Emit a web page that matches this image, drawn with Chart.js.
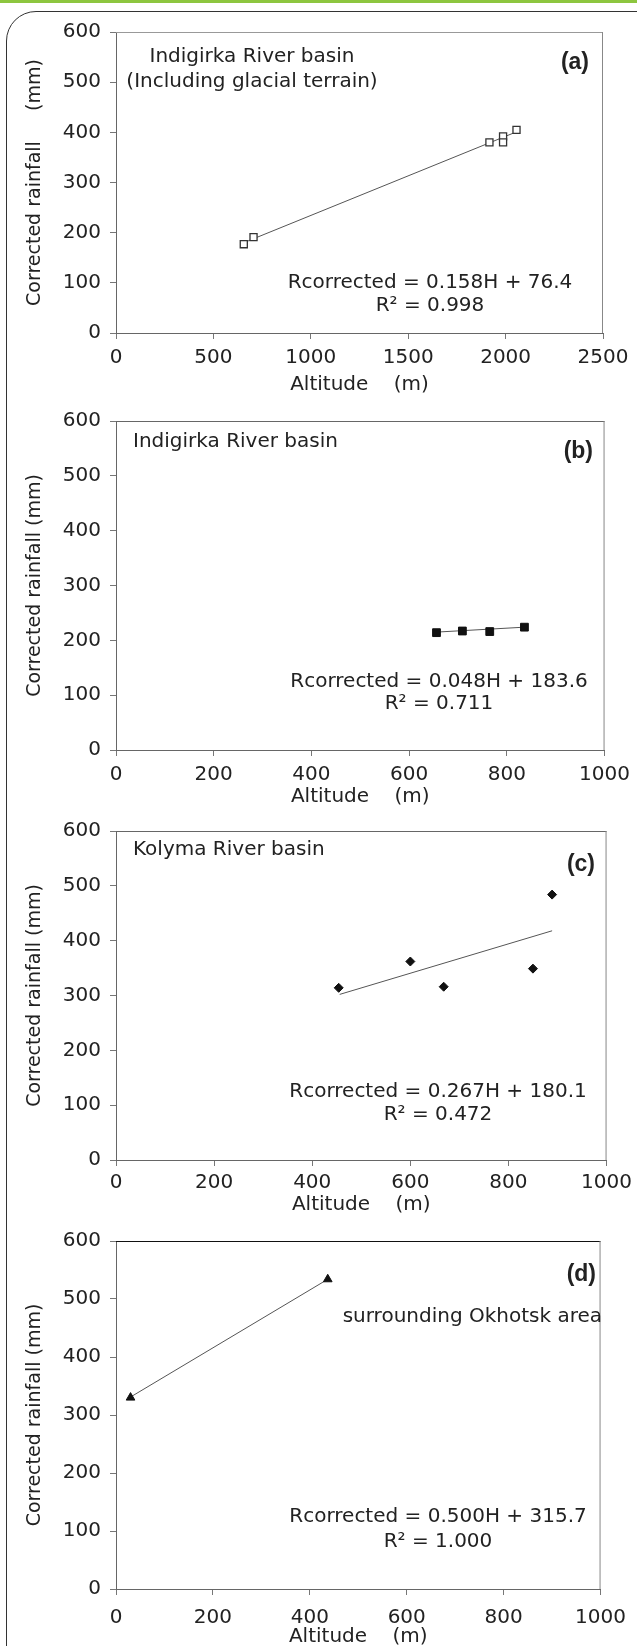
<!DOCTYPE html>
<html>
<head>
<meta charset="utf-8">
<script src="https://cdn.jsdelivr.net/npm/chart.js@4.4.1/dist/chart.umd.min.js"></script>
<style>
  html, body { margin: 0; padding: 0; background: #fff; overflow: hidden; }
  #page { position: relative; width: 637px; height: 1646px; overflow: hidden; }
  .topbar { position: absolute; left: 0; top: 0; width: 637px; height: 3px; background: #8dc63f; }
  .frame { position: absolute; left: 6px; top: 11px; width: 680px; height: 1700px;
           border: 1.5px solid #333; border-radius: 30px; box-sizing: border-box; }
  canvas { position: absolute; left: 0; }
</style>
</head>
<body>
<div id="page">
  <div class="topbar"></div>
  <div class="frame"></div>
  <canvas id="chartA"></canvas>
  <canvas id="chartB"></canvas>
  <canvas id="chartC"></canvas>
  <canvas id="chartD"></canvas>
</div>
<script>
// values
const altitudeA = [656, 706, 1917, 1987, 1987, 2056];
const rainfallA = [177, 191, 380, 392, 380, 405];
const trendAltA = [656, 2056];
const trendRainA = [180, 401];

const altitudeB = [656, 709, 765, 836];
const rainfallB = [214, 217, 216, 224];
const trendAltB = [656, 836];
const trendRainB = [215, 224];

const altitudeC = [454, 600, 668, 850, 889];
const rainfallC = [314, 362, 316, 349, 484];
const trendAltC = [456, 889];
const trendRainC = [302, 418];

const altitudeD = [30, 437];
const rainfallD = [330, 534];
const trendAltD = [30, 437];
const trendRainD = [331, 534];

const xTicksA = [0, 500, 1000, 1500, 2000, 2500];
const xTicksOther = [0, 200, 400, 600, 800, 1000];
const yTicks = [0, 100, 200, 300, 400, 500, 600];

Chart.defaults.font.family = "'DejaVu Sans', sans-serif";
Chart.defaults.font.size = 20;
Chart.defaults.color = '#222';

const framePlugin = {
  id: 'frame',
  beforeDatasetsDraw(chart, args, opts) {
    const a = chart.chartArea;
    const ctx = chart.ctx;
    ctx.save();
    ctx.lineWidth = 1;
    ctx.strokeStyle = opts.topColor || '#777';
    ctx.beginPath();
    ctx.moveTo(a.left, a.top + 0.5);
    ctx.lineTo(a.right, a.top + 0.5);
    ctx.stroke();
    ctx.strokeStyle = '#888';
    ctx.beginPath();
    ctx.moveTo(a.right - 0.5, a.top);
    ctx.lineTo(a.right - 0.5, a.bottom);
    ctx.stroke();
    ctx.restore();
  }
};

const notesPlugin = {
  id: 'notes',
  afterDraw(chart, args, opts) {
    const ctx = chart.ctx;
    ctx.save();
    ctx.fillStyle = '#222';
    ctx.textBaseline = 'middle';
    (opts.items || []).forEach(n => {
      // panel letters are a bold Arial-like face, the rest matches the axes
      ctx.font = n.bold ? "bold 23px 'Liberation Sans', Arial, sans-serif"
                        : "20px 'DejaVu Sans', sans-serif";
      ctx.textAlign = n.align || 'left';
      ctx.fillText(n.text, n.x, n.y);
    });
    ctx.restore();
  }
};

function toPoints(xs, ys) {
  return xs.map((x, i) => ({ x: x, y: ys[i] }));
}

function makePanel(cfg) {
  const canvas = document.getElementById(cfg.id);
  canvas.width = 637;
  canvas.height = cfg.height;
  canvas.style.top = cfg.top + 'px';

  return new Chart(canvas, {
    type: 'scatter',
    data: {
      datasets: [
        {
          data: toPoints(cfg.xs, cfg.ys),
          pointStyle: cfg.marker,
          pointRadius: cfg.radius,
          backgroundColor: cfg.fill,
          borderColor: cfg.stroke,
          borderWidth: cfg.markerWidth,
          showLine: false,
          order: 0
        },
        {
          data: toPoints(cfg.trendX, cfg.trendY),
          showLine: true,
          pointRadius: 0,
          borderColor: '#555',
          borderWidth: 1,
          order: 1
        }
      ]
    },
    options: {
      responsive: false,
      animation: false,
      events: [],
      layout: { padding: { top: cfg.area.top, right: 637 - cfg.area.right, left: 0, bottom: 0 } },
      plugins: {
        legend: { display: false },
        tooltip: { enabled: false },
        frame: { topColor: cfg.topColor },
        notes: { items: cfg.notes }
      },
      scales: {
        x: {
          type: 'linear',
          min: cfg.xTicks[0],
          max: cfg.xTicks[cfg.xTicks.length - 1],
          afterBuildTicks: s => { s.ticks = cfg.xTicks.map(v => ({ value: v })); },
          afterFit: s => { s.height = cfg.height - cfg.area.bottom; },
          grid: { drawOnChartArea: false, tickLength: 6, color: '#777' },
          border: { color: '#666', width: 1 },
          ticks: { padding: cfg.xTickPad, maxRotation: 0, autoSkip: false, callback: v => String(v) },
          title: { display: true, text: 'Altitude    (m)', padding: { top: 0, bottom: cfg.xTitlePad } }
        },
        y: {
          type: 'linear',
          min: 0,
          max: 600,
          afterBuildTicks: s => { s.ticks = yTicks.map(v => ({ value: v })); },
          afterFit: s => { s.width = 116; },
          grid: { drawOnChartArea: false, tickLength: 6, color: '#777' },
          border: { color: '#666', width: 1 },
          ticks: { padding: 9, callback: v => String(v) },
          title: { display: true, text: cfg.yTitle, font: { size: 19 }, padding: { top: 24, bottom: 0 } }
        }
      }
    },
    plugins: [framePlugin, notesPlugin]
  });
}

makePanel({
  id: 'chartA', top: 0, height: 400,
  area: { top: 32, bottom: 333, right: 603 },
  xs: altitudeA, ys: rainfallA, trendX: trendAltA, trendY: trendRainA,
  xTicks: xTicksA, xTickPad: 7, xTitlePad: 3,
  marker: 'rect', radius: 5, fill: 'rgba(255,255,255,1)', stroke: '#333', markerWidth: 1.3,
  yTitle: 'Corrected rainfall     (mm)', topColor: '#999',
  notes: [
    { text: 'Indigirka River basin', x: 252, y: 57, align: 'center' },
    { text: '(Including glacial terrain)', x: 252, y: 82, align: 'center' },
    { text: '(a)', x: 589, y: 63, align: 'right', bold: true },
    { text: 'Rcorrected = 0.158H + 76.4', x: 430, y: 283, align: 'center' },
    { text: 'R\u00b2 = 0.998', x: 430, y: 306, align: 'center' }
  ]
});

makePanel({
  id: 'chartB', top: 400, height: 410,
  area: { top: 17, bottom: 350, right: 609 },
  xs: altitudeB, ys: rainfallB, trendX: trendAltB, trendY: trendRainB,
  xTicks: xTicksOther, xTickPad: 7, xTitlePad: 1,
  marker: 'rect', radius: 5.5, fill: '#111', stroke: '#111', markerWidth: 1,
  yTitle: 'Corrected rainfall (mm)', topColor: '#666',
  notes: [
    { text: 'Indigirka River basin', x: 133, y: 42 },
    { text: '(b)', x: 593, y: 52, align: 'right', bold: true },
    { text: 'Rcorrected = 0.048H + 183.6', x: 439, y: 282, align: 'center' },
    { text: 'R\u00b2 = 0.711', x: 439, y: 304, align: 'center' }
  ]
});

makePanel({
  id: 'chartC', top: 810, height: 410,
  area: { top: 16, bottom: 350, right: 609 },
  xs: altitudeC, ys: rainfallC, trendX: trendAltC, trendY: trendRainC,
  xTicks: xTicksOther, xTickPad: 5, xTitlePad: 3,
  marker: 'rectRot', radius: 4.5, fill: '#111', stroke: '#111', markerWidth: 1,
  yTitle: 'Corrected rainfall (mm)', topColor: '#666',
  notes: [
    { text: 'Kolyma River basin', x: 133, y: 40 },
    { text: '(c)', x: 595, y: 55, align: 'right', bold: true },
    { text: 'Rcorrected = 0.267H + 180.1', x: 438, y: 282, align: 'center' },
    { text: 'R\u00b2 = 0.472', x: 438, y: 305, align: 'center' }
  ]
});

makePanel({
  id: 'chartD', top: 1220, height: 429,
  area: { top: 15, bottom: 369, right: 609 },
  xs: altitudeD, ys: rainfallD, trendX: trendAltD, trendY: trendRainD,
  xTicks: xTicksOther, xTickPad: 11, xTitlePad: 0,
  marker: 'triangle', radius: 5, fill: '#111', stroke: '#111', markerWidth: 1,
  yTitle: 'Corrected rainfall (mm)', topColor: '#111',
  notes: [
    { text: '(d)', x: 596, y: 55, align: 'right', bold: true },
    { text: 'surrounding Okhotsk area', x: 602, y: 97, align: 'right' },
    { text: 'Rcorrected = 0.500H + 315.7', x: 438, y: 297, align: 'center' },
    { text: 'R\u00b2 = 1.000', x: 438, y: 322, align: 'center' }
  ]
});
</script>
</body>
</html>
